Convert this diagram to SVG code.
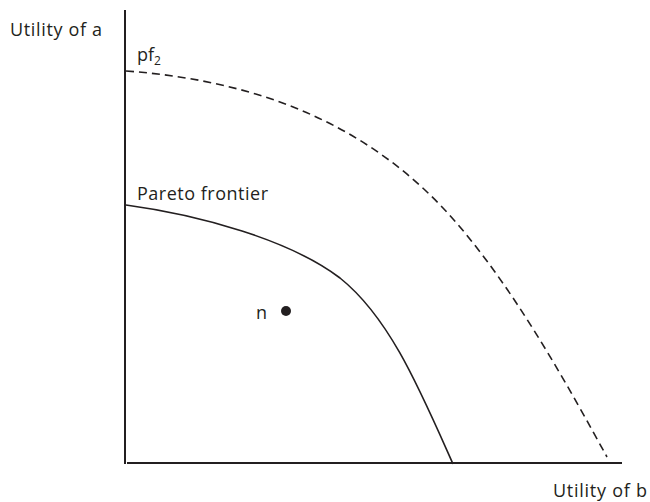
<svg xmlns="http://www.w3.org/2000/svg" width="650" height="502" viewBox="0 0 650 502">
<style>
text{font-family:"Open Sans","Liberation Sans",sans-serif;font-size:18px;fill:#231f20}
.axis{stroke:#231f20;stroke-width:2;fill:none}
.curve{stroke:#231f20;stroke-width:1.6;fill:none}
.dash{stroke-dasharray:8 5}
</style>
<rect width="650" height="502" fill="#fff"/>
<g id="connectors">
<line class="axis" x1="125" y1="10" x2="125" y2="464"/>
<line class="axis" x1="127" y1="463" x2="622" y2="463"/>
<path class="curve" d="M126,205 C200,215 290,240 340,278 C390,318 420,390 453,464"/>
<path class="curve dash" d="M126,71 C250,80 370,120 460,227 C520,298 570,390 607,457"/>
</g>
<g id="label-ya"><text x="10" y="36" textLength="92" lengthAdjust="spacing">Utility of a</text></g>
<g id="label-xb"><text x="553" y="497" textLength="94" lengthAdjust="spacing">Utility of b</text></g>
<g id="label-pf2"><text x="137" y="61">pf<tspan font-size="12" dy="4">2</tspan></text></g>
<g id="label-pareto"><text x="137" y="200" textLength="131" lengthAdjust="spacing">Pareto frontier</text></g>
<g id="node-n"><text x="256" y="319" font-size="20">n</text><circle cx="286" cy="311" r="5" fill="#231f20"/></g>
</svg>
